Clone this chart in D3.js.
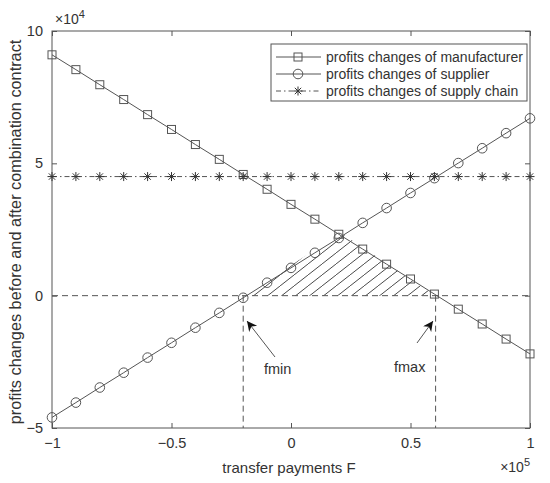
<!DOCTYPE html>
<html><head><meta charset="utf-8">
<script src="https://cdn.jsdelivr.net/npm/d3@7"></script>
<style>body{margin:0;background:#fff;} text{font-family:"Liberation Sans",Arial,sans-serif;fill:#333;}</style>
</head><body><svg id="c" width="550" height="483"></svg>
<script>
const xValues = [-1,-0.9,-0.8,-0.7,-0.6,-0.5,-0.4,-0.3,-0.2,-0.1,0,0.1,0.2,0.3,0.4,0.5,0.6,0.7,0.8,0.9,1];
const manufacturer = [9.10,8.54,7.97,7.41,6.84,6.28,5.71,5.15,4.58,4.02,3.45,2.89,2.32,1.76,1.19,0.63,0.06,-0.51,-1.07,-1.64,-2.20];
const supplier = [-4.60,-4.04,-3.47,-2.91,-2.34,-1.78,-1.21,-0.65,-0.08,0.49,1.05,1.62,2.18,2.75,3.31,3.88,4.44,5.01,5.57,6.14,6.70];
const supplyChain = [4.5,4.5,4.5,4.5,4.5,4.5,4.5,4.5,4.5,4.5,4.5,4.5,4.5,4.5,4.5,4.5,4.5,4.5,4.5,4.5,4.5];
const xTicks = [-1,-0.5,0,0.5,1];
const yTicks = [-5,0,5,10];
const fmin = -0.2, fmax = 0.605, crossX = 0.21, crossY = 2.36;
const legendLabels = ["profits changes of manufacturer","profits changes of supplier","profits changes of supply chain"];

const svg = d3.select("#c");
const L=52,R=530,T=31,B=428;
const x = d3.scaleLinear().domain([-1,1]).range([L,R]);
const y = d3.scaleLinear().domain([-5,10]).range([B,T]);
const col="#555";

// hatch pattern
const w=14,h=11;
const pat=svg.append("defs").append("pattern").attr("id","hatch").attr("patternUnits","userSpaceOnUse")
  .attr("width",w).attr("height",h);
pat.append("path").attr("d",`M${-w},${2*h}L${2*w},${-h}`).attr("stroke","#333").attr("stroke-width",0.9);
const area=[[fmin,0],[crossX,crossY],[fmax,0]];
svg.append("path").attr("d",d3.line().x(d=>x(d[0])).y(d=>y(d[1]))(area)+"Z").attr("fill","url(#hatch)");

// axes box
const g=svg.append("g");
g.append("rect").attr("x",L).attr("y",T).attr("width",R-L).attr("height",B-T).attr("fill","none").attr("stroke","#555").attr("stroke-width",1);
const ax=d3.axisBottom(x).tickValues(xTicks).tickSizeInner(-5).tickSizeOuter(0).tickPadding(10).tickFormat(d=>d===0?"0":String(d).replace("-","\u2212"));
const gx=g.append("g").attr("transform",`translate(0,${B})`).call(ax);
const axt=d3.axisTop(x).tickValues(xTicks).tickSizeInner(-5).tickSizeOuter(0).tickFormat("");
const gxt=g.append("g").attr("transform",`translate(0,${T})`).call(axt);
const ay=d3.axisLeft(y).tickValues(yTicks).tickSizeInner(-5).tickSizeOuter(0).tickPadding(9).tickFormat(d=>String(d).replace("-","\u2212"));
const gy=g.append("g").attr("transform",`translate(${L},0)`).call(ay);
const ayr=d3.axisRight(y).tickValues(yTicks).tickSizeInner(-5).tickSizeOuter(0).tickFormat("");
const gyr=g.append("g").attr("transform",`translate(${R},0)`).call(ayr);
[gx,gxt,gy,gyr].forEach(a=>{a.select(".domain").remove();a.selectAll("line").attr("stroke","#555");a.selectAll("text").attr("font-size",14.5).attr("fill","#333").style("font-family","Liberation Sans, Arial");});

// dashed reference lines
svg.append("line").attr("x1",x(-1)).attr("x2",x(1)).attr("y1",y(0)).attr("y2",y(0)).attr("stroke",col).attr("stroke-dasharray","6,4");
[fmin,fmax].forEach(v=>svg.append("line").attr("x1",x(v)).attr("x2",x(v)).attr("y1",y(0)).attr("y2",B).attr("stroke",col).attr("stroke-dasharray","6,4"));

const line=d3.line().x((d,i)=>x(xValues[i])).y(d=>y(d));
svg.append("path").attr("d",line(manufacturer)).attr("fill","none").attr("stroke",col);
svg.append("path").attr("d",line(supplier)).attr("fill","none").attr("stroke",col);
svg.append("path").attr("d",line(supplyChain)).attr("fill","none").attr("stroke",col).attr("stroke-dasharray","5,3,1.5,3");

function square(sel,cx,cy){sel.append("rect").attr("x",cx-4).attr("y",cy-4).attr("width",8).attr("height",8).attr("fill","none").attr("stroke",col);}
function circle(sel,cx,cy){sel.append("circle").attr("cx",cx).attr("cy",cy).attr("r",4.8).attr("fill","none").attr("stroke",col);}
function star(sel,cx,cy){const s=4.5,d=3.2;sel.append("path").attr("d",`M${cx-s},${cy}H${cx+s}M${cx},${cy-s}V${cy+s}M${cx-d},${cy-d}L${cx+d},${cy+d}M${cx-d},${cy+d}L${cx+d},${cy-d}`).attr("stroke","#333").attr("stroke-width",1);}
manufacturer.forEach((v,i)=>square(svg,x(xValues[i]),y(v)));
supplier.forEach((v,i)=>circle(svg,x(xValues[i]),y(v)));
supplyChain.forEach((v,i)=>star(svg,x(xValues[i]),y(v)));

// exponents
svg.append("text").attr("x",L+3).attr("y",T-7).attr("font-size",14).html('\u00d710<tspan dy="-6" font-size="11">4</tspan>');
svg.append("text").attr("x",R).attr("y",B+44).attr("text-anchor","end").attr("font-size",14).html('\u00d710<tspan dy="-6" font-size="11">5</tspan>');

// axis labels
svg.append("text").attr("x",(L+R)/2-2).attr("y",473).attr("text-anchor","middle").attr("font-size",15).text("transfer payments F");
svg.append("text").attr("transform",`translate(21,232) rotate(-90)`).attr("text-anchor","middle").attr("font-size",16.3).text("profits changes before and after combination contract");

// annotations
const defs=svg.select("defs");
defs.append("marker").attr("id","arr").attr("viewBox","0 0 10 10").attr("refX",10).attr("refY",5).attr("markerWidth",13).attr("markerHeight",10).attr("markerUnits","userSpaceOnUse").attr("orient","auto")
 .append("path").attr("d","M0,0L10,5L0,10L3,5Z").attr("fill","#111");
svg.append("line").attr("x1",275).attr("y1",357).attr("x2",247).attr("y2",321).attr("stroke","#555").attr("marker-end","url(#arr)");
svg.append("line").attr("x1",417).attr("y1",343).attr("x2",433).attr("y2",321).attr("stroke","#555").attr("marker-end","url(#arr)");
svg.append("text").attr("x",264).attr("y",374).attr("font-size",14.5).text("fmin");
svg.append("text").attr("x",394).attr("y",372).attr("font-size",14.5).text("fmax");

// legend
const lg=svg.append("g");
lg.append("rect").attr("x",271).attr("y",44).attr("width",256).attr("height",57).attr("fill","#fff").attr("stroke","#555");
const rowsY=[57,74,91];
const drawers=[square,circle,star];
legendLabels.forEach((t,i)=>{
  const ly=rowsY[i];
  lg.append("line").attr("x1",276).attr("x2",321).attr("y1",ly).attr("y2",ly).attr("stroke",col).attr("stroke-dasharray",i===2?"5,3,1.5,3":null);
  drawers[i](lg,298,ly);
  lg.append("text").attr("x",326).attr("y",ly+5).attr("font-size",14).text(t);
});
</script></body></html>
